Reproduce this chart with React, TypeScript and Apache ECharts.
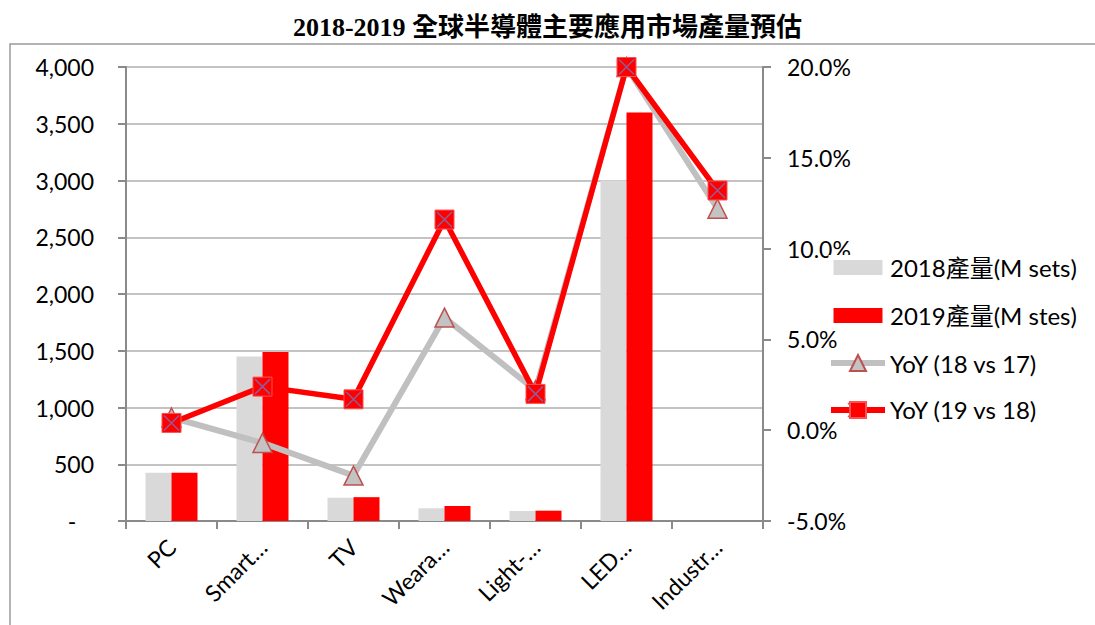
import React, { useEffect, useRef } from "react";
import * as echarts from "echarts";

const titleText = "2018-2019 全球半導體主要應用市場產量預估";
const categories = ["PC", "Smart…", "TV", "Weara…", "Light-…", "LED…", "Industr…"];
const seriesNames = ["2018產量(M sets)", "2019產量(M stes)", "YoY (18 vs 17)", "YoY (19 vs 18)"];
const output2018 = [425, 1450, 205, 112, 88, 3000, null];
const output2019 = [425, 1490, 210, 132, 91, 3600, null];
const yoy1817 = [0.7, -0.7, -2.5, 6.2, 2.2, 20.0, 12.2];
const yoy1918 = [0.4, 2.4, 1.7, 11.6, 2.0, 20.0, 13.2];
const leftTicks = { min: 0, max: 4000, interval: 500 };
const rightTicks = { min: -5, max: 20, interval: 5 };

const FONT = "Lato, 'Noto Sans CJK TC', sans-serif";
const AXIS_COLOR = "#8a8a8a";
const GRID_COLOR = "#c3c3c3";
const X_COLOR = "#7373bd";
const GRAY_LINE = "#c0c0c0";
const RED = "#ff0000";

export default function App() {
  const ref = useRef<HTMLDivElement>(null);
  useEffect(() => {
    if (!ref.current) return;
    const chart = echarts.init(ref.current, null, { renderer: "svg" });
    chart.setOption({
      animation: false,
      backgroundColor: "#ffffff",
      title: {
        text: titleText,
        left: "center",
        top: 9,
        textStyle: {
          fontFamily: "'Liberation Serif', 'Noto Sans CJK TC', serif",
          fontWeight: "bold",
          fontSize: 26,
          color: "#000",
        },
      },
      graphic: [
        {
          type: "rect",
          shape: { x: 10, y: 44, width: 1100, height: 620 },
          style: { fill: "none", stroke: "#9a9a9a", lineWidth: 1.5 },
          z: -10,
          silent: true,
        },
        {
          type: "group",
          x: 855,
          y: 410,
          z: 200,
          children: [
            { type: "line", shape: { x1: -7, y1: -7, x2: 7, y2: 7 }, style: { stroke: X_COLOR, lineWidth: 1.5 } },
            { type: "line", shape: { x1: 7, y1: -7, x2: -7, y2: 7 }, style: { stroke: X_COLOR, lineWidth: 1.5 } },
          ],
        },
      ],
      legend: {
        orient: "vertical",
        left: 823,
        top: 250,
        itemWidth: 54,
        itemHeight: 20,
        itemGap: 23,
        data: [
          { name: seriesNames[0], icon: "rect", itemStyle: { borderColor: "#ffffff", borderWidth: 5 } },
          { name: seriesNames[1], icon: "rect", itemStyle: { borderColor: "#ffffff", borderWidth: 5 } },
          { name: seriesNames[2], lineStyle: { width: 6 } },
          { name: seriesNames[3], lineStyle: { width: 6 } },
        ],
        textStyle: { fontFamily: FONT, fontSize: 24, color: "#000" },
      },
      grid: { left: 126, right: 332, top: 67, bottom: 104 },
      xAxis: {
        type: "category",
        data: categories,
        boundaryGap: true,
        axisLine: { show: true, lineStyle: { color: AXIS_COLOR, width: 2 } },
        axisTick: { show: true, length: 8, lineStyle: { color: AXIS_COLOR, width: 2 } },
        axisLabel: {
          rotate: 45,
          margin: 22,
          interval: 0,
          fontFamily: FONT,
          fontSize: 23,
          color: "#000",
        },
      },
      yAxis: [
        {
          type: "value",
          min: leftTicks.min,
          max: leftTicks.max,
          interval: leftTicks.interval,
          axisLine: { show: true, lineStyle: { color: AXIS_COLOR, width: 2 } },
          axisTick: { show: true, length: 8, lineStyle: { color: AXIS_COLOR, width: 2 } },
          splitLine: { show: true, lineStyle: { color: GRID_COLOR, width: 2 } },
          axisLabel: {
            margin: 32,
            fontFamily: FONT,
            fontSize: 23,
            color: "#000",
            formatter: (v: number) => (v === 0 ? "-\u00A0\u00A0\u00A0" : v.toLocaleString("en-US")),
          },
        },
        {
          type: "value",
          min: rightTicks.min,
          max: rightTicks.max,
          interval: rightTicks.interval,
          position: "right",
          axisLine: { show: true, lineStyle: { color: AXIS_COLOR, width: 2 } },
          axisTick: { show: true, length: 8, lineStyle: { color: AXIS_COLOR, width: 2 } },
          splitLine: { show: false },
          axisLabel: {
            margin: 24,
            fontFamily: FONT,
            fontSize: 23,
            color: "#000",
            formatter: (v: number) => v.toFixed(1) + "%",
          },
        },
      ],
      series: [
        {
          name: seriesNames[0],
          type: "bar",
          data: output2018,
          barWidth: 26,
          barGap: "0%",
          itemStyle: { color: "#d9d9d9" },
          z: 1,
        },
        {
          name: seriesNames[1],
          type: "bar",
          data: output2019,
          barWidth: 26,
          barGap: "0%",
          itemStyle: { color: RED },
          z: 1,
        },
        {
          name: seriesNames[2],
          type: "line",
          yAxisIndex: 1,
          data: yoy1817,
          symbol: "triangle",
          symbolSize: 19,
          showAllSymbol: true,
          lineStyle: { color: GRAY_LINE, width: 6 },
          itemStyle: { color: "#c3c3c3", borderColor: "#c0504d", borderWidth: 1.5 },
          z: 3,
        },
        {
          name: seriesNames[3],
          type: "line",
          yAxisIndex: 1,
          data: yoy1918,
          symbol: "rect",
          symbolSize: 19,
          showAllSymbol: true,
          lineStyle: { color: RED, width: 5.5 },
          itemStyle: { color: RED, borderColor: "#ff5050", borderWidth: 1 },
          z: 4,
        },
        {
          name: "X markers",
          type: "scatter",
          yAxisIndex: 1,
          data: yoy1918,
          symbol: "path://M0,0L10,10M10,0L0,10",
          symbolSize: 15,
          itemStyle: { color: "transparent", borderColor: X_COLOR, borderWidth: 1.5 },
          z: 5,
          silent: true,
        },
      ],
    });
    return () => chart.dispose();
  }, []);
  return (
    <div
      ref={ref}
      style={{ position: "fixed", left: 0, top: 0, width: 1095, height: 625, background: "#fff" }}
    />
  );
}
